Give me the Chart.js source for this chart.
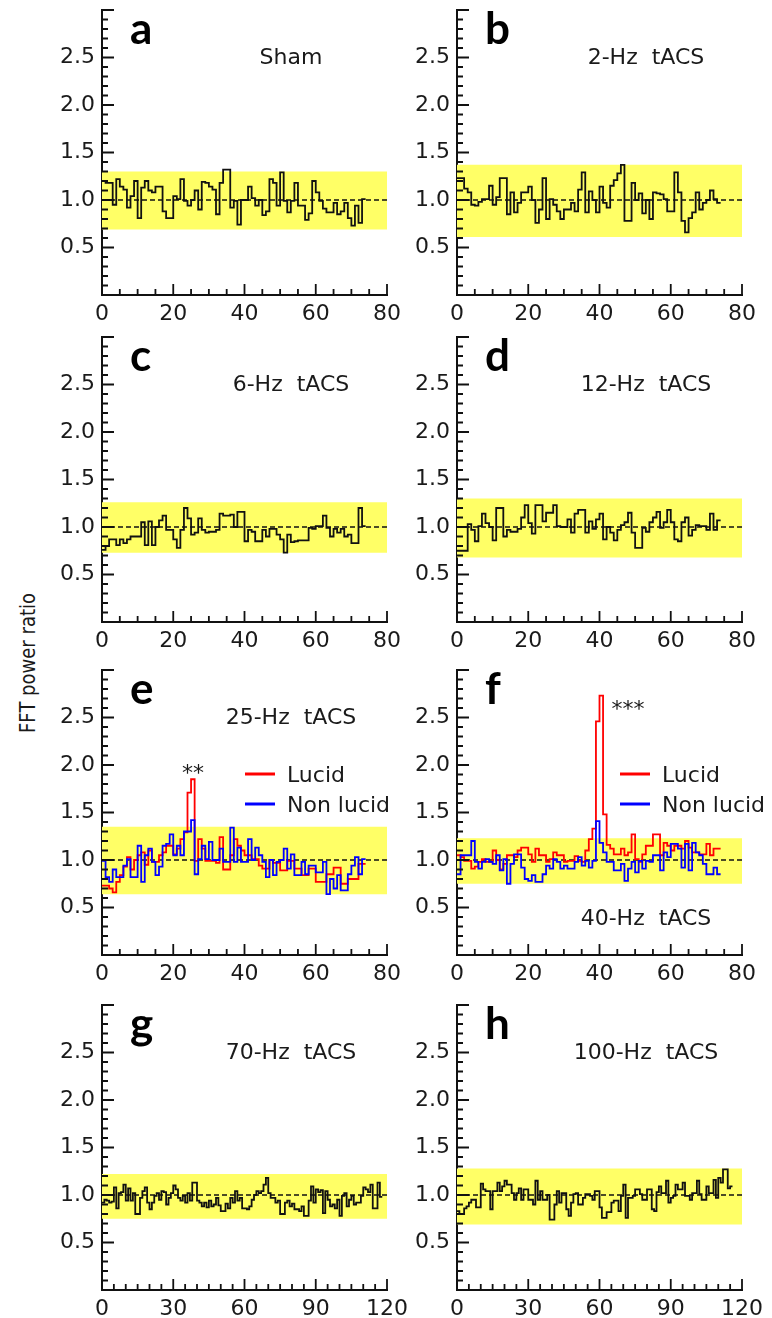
<!DOCTYPE html>
<html>
<head>
<meta charset="utf-8">
<script src="https://cdn.jsdelivr.net/npm/chart.js@4.4.0/dist/chart.umd.min.js"></script>
<style>
  body { margin: 0; background: #fff; width: 772px; height: 1318px; position: relative; overflow: hidden; }
  canvas { position: absolute; }
  #ytitle {
    position: absolute; left: -73px; top: 653px; width: 200px; height: 20px;
    line-height: 20px; text-align: center; font: 18px "DejaVu Sans"; color: #1a1a1a;
    transform: rotate(-90deg) scaleY(1.2);
  }
</style>
</head>
<body>
<div id="ytitle">FFT power ratio</div>
<script>
// FFT power ratio per 1-Hz bin, one array per stimulation condition
const sham = [1.20,1.18,1.18,0.95,1.22,1.14,1.11,0.92,1.04,1.20,
  0.81,1.13,1.20,1.10,1.08,1.14,1.14,0.88,0.81,0.81,
  1.04,1.01,1.22,0.99,0.94,1.00,1.10,0.90,1.19,1.18,
  1.14,1.11,0.85,1.18,1.32,1.32,0.92,0.99,0.74,1.00,
  1.00,1.14,1.02,0.94,1.00,0.84,0.88,1.22,1.18,0.94,
  1.29,0.99,0.87,0.99,1.18,0.94,0.94,0.79,0.86,1.20,
  1.08,0.99,0.91,0.87,0.87,0.97,0.85,0.88,0.97,0.81,
  0.73,0.94,0.76,1.01];
const tacs2 = [1.23,1.23,1.12,1.08,0.95,0.94,0.98,1.01,1.01,1.15,
  0.95,1.03,1.23,1.23,0.85,1.08,0.87,0.97,1.08,1.08,
  1.14,1.00,0.76,0.90,1.23,0.80,1.01,0.95,0.88,0.80,
  0.90,0.90,0.97,0.88,1.11,1.29,0.87,1.09,1.00,0.87,
  1.14,0.97,0.92,1.15,1.21,1.28,1.37,0.78,0.78,1.18,
  1.00,1.07,0.86,1.00,0.80,1.08,1.07,1.06,1.01,0.88,
  0.88,1.29,1.08,0.78,0.66,0.81,0.87,1.08,0.90,0.97,
  1.00,1.10,1.01,0.97];
const tacs6 = [0.76,0.80,0.87,0.87,0.81,0.87,0.83,0.87,0.90,0.90,
  0.90,1.05,0.81,1.06,0.81,1.00,1.07,1.12,0.97,0.97,
  0.87,0.78,0.97,1.20,1.09,0.92,0.94,1.09,0.97,0.94,
  0.95,0.95,0.97,1.14,1.12,1.12,1.13,1.00,1.16,1.16,
  0.85,0.97,0.95,0.85,0.85,0.97,0.90,0.98,0.98,0.92,
  0.87,0.73,0.92,0.84,0.85,0.86,0.86,0.86,0.99,0.98,
  1.01,1.01,1.12,0.99,0.90,0.98,0.94,0.98,0.90,0.92,
  0.83,0.83,1.20,1.01];
const tacs12 = [0.75,0.75,0.75,1.03,0.97,0.85,1.01,1.14,1.04,1.00,
  0.86,1.20,1.20,0.90,0.97,0.95,0.95,0.98,1.10,1.23,
  1.04,0.93,1.23,1.23,1.06,1.15,1.15,1.23,1.01,1.00,
  1.00,1.08,0.94,1.14,1.18,1.18,0.94,1.06,0.98,1.08,
  1.14,0.87,1.00,0.94,0.86,0.97,1.02,1.05,1.15,0.94,
  0.78,0.78,0.99,0.95,1.05,1.10,1.16,0.99,1.05,1.18,
  1.05,0.87,0.85,1.05,1.10,0.91,0.97,1.02,1.01,1.01,
  0.97,1.14,0.97,1.07];
const tacs25Lucid = [0.73,0.73,0.70,0.66,0.77,0.84,0.93,1.03,0.90,1.00,
  1.05,1.08,0.95,1.10,0.98,0.98,1.05,1.08,1.15,1.15,
  1.06,1.12,1.22,1.29,1.71,1.85,0.99,1.22,1.12,0.99,
  0.99,0.99,0.97,1.24,0.90,0.90,1.05,1.22,1.15,1.10,
  1.05,1.05,1.01,1.01,0.94,0.91,0.91,1.00,0.97,0.97,
  0.89,0.89,0.99,0.99,0.91,0.91,0.84,0.84,0.91,0.91,
  0.77,0.77,0.77,0.85,0.85,0.92,0.92,0.75,0.75,0.80,
  0.80,0.80,0.96,0.96];
const tacs25NonLucid = [0.99,0.82,0.77,0.90,0.82,0.82,0.94,1.01,0.82,0.82,
  1.15,0.77,1.05,1.12,0.98,0.84,0.93,1.15,1.17,1.27,
  1.05,1.15,1.05,1.30,1.30,1.42,0.85,1.01,1.15,1.01,
  1.19,1.00,1.00,1.12,0.98,0.98,1.34,0.98,1.13,0.98,
  0.98,1.22,1.00,1.13,1.05,0.98,0.82,1.00,0.84,0.98,
  1.00,1.12,0.91,1.06,0.84,0.84,0.98,0.85,0.94,0.94,
  0.87,0.87,0.98,0.64,0.80,0.70,0.84,0.68,0.68,0.85,
  0.94,1.03,0.85,1.01];
const tacs40Lucid = [1.05,1.03,0.99,0.99,0.91,0.93,0.98,1.01,0.98,0.98,
  1.10,1.00,0.90,0.96,1.05,1.05,1.03,1.10,1.13,1.13,
  1.06,0.98,1.12,1.05,1.05,0.98,1.01,1.08,1.05,1.05,
  0.98,0.99,0.99,1.04,0.99,0.98,1.10,1.22,1.33,2.46,
  2.73,1.48,1.16,1.12,1.06,1.06,1.12,1.05,1.08,1.27,
  1.01,0.98,1.06,1.15,1.15,1.27,1.27,1.05,1.18,1.15,
  1.10,1.15,1.15,1.12,1.20,1.13,1.08,1.08,1.06,1.06,
  1.17,1.05,1.12,1.12];
const tacs40NonLucid = [0.85,1.05,1.05,1.05,1.20,0.98,0.91,0.98,1.01,0.98,
  0.96,1.05,0.89,1.01,0.75,0.96,1.06,1.06,0.92,0.80,
  0.78,0.84,0.77,0.77,0.85,0.94,0.91,1.01,0.98,0.91,
  0.94,0.91,0.91,0.98,1.03,0.94,0.99,0.92,0.99,1.41,
  1.18,1.08,0.98,0.98,0.89,0.89,0.96,0.78,0.91,0.98,
  0.87,0.99,0.91,0.99,0.98,1.05,1.05,0.89,1.08,1.03,
  1.17,1.17,1.12,0.92,1.17,0.89,1.18,1.08,1.05,0.96,
  0.85,0.85,0.92,0.85];
const tacs70 = [0.92,0.95,0.94,0.92,0.93,1.08,0.86,1.02,1.03,1.11,
  0.94,1.07,0.94,1.02,0.80,0.80,0.97,1.04,1.08,0.92,
  0.85,0.92,0.99,1.02,0.95,1.04,1.03,0.90,0.97,1.02,
  1.10,1.06,0.97,0.94,0.99,0.92,1.02,0.94,1.13,1.13,
  0.94,0.92,0.88,0.92,0.87,0.94,0.88,0.90,0.97,0.89,
  0.83,0.83,0.91,0.86,0.97,0.92,1.04,0.94,0.97,0.86,
  0.86,0.85,0.88,0.95,1.00,1.04,1.02,1.04,1.11,1.18,
  1.02,0.97,0.97,0.92,0.94,0.80,0.80,0.92,0.94,0.88,
  0.91,0.85,0.85,0.83,0.88,0.78,0.78,0.94,1.09,0.92,
  1.06,1.03,1.05,0.81,1.04,0.95,0.88,0.90,0.86,0.95,
  0.78,0.99,1.02,0.88,0.95,0.99,0.90,0.92,0.92,0.99,
  1.08,1.06,1.03,1.11,0.86,0.86,1.13,0.98];
const tacs100 = [0.83,0.80,0.80,0.86,0.88,0.92,0.95,0.95,0.87,0.87,
  1.12,1.06,1.04,1.04,0.85,1.04,1.04,1.13,1.04,1.09,
  1.15,1.11,1.11,1.02,0.95,1.02,1.07,0.95,1.06,1.06,
  0.95,0.95,0.90,1.15,0.95,1.04,0.95,0.95,1.00,0.74,
  0.74,0.90,1.04,0.92,1.02,1.02,0.85,0.78,0.92,1.01,
  1.02,0.90,0.90,0.97,1.01,1.01,0.99,0.95,1.04,1.04,
  0.87,0.76,0.76,0.82,0.82,0.92,0.94,0.94,0.83,0.99,
  1.11,0.76,0.97,0.97,0.99,1.06,1.06,1.01,0.95,0.95,
  1.06,1.06,0.85,0.83,1.03,1.09,1.02,1.02,1.15,0.92,
  0.97,0.99,1.11,1.06,1.06,1.13,0.99,0.99,0.95,1.02,
  1.02,1.15,1.01,0.95,0.95,1.09,1.02,1.02,1.16,0.97,
  1.18,1.13,1.27,1.27,1.07,1.09];

// shaded confidence band per panel (a..h)
const bandLow  = [0.69, 0.61, 0.73, 0.68, 0.64, 0.75, 0.75, 0.69];
const bandHigh = [1.30, 1.37, 1.26, 1.30, 1.35, 1.23, 1.22, 1.28];

const panelLetters = ['a', 'b', 'c', 'd', 'e', 'f', 'g', 'h'];
const panelTitles = ['Sham', '2-Hz  tACS', '6-Hz  tACS', '12-Hz  tACS',
  '25-Hz  tACS', '40-Hz  tACS', '70-Hz  tACS', '100-Hz  tACS'];
const xTicks80 = [0, 20, 40, 60, 80];
const xTicks120 = [0, 30, 60, 90, 120];
const yTicks = [0.5, 1.0, 1.5, 2.0, 2.5];

const RED = '#ff0000', BLUE = '#0000ff', INK = '#111';

const panels = [
  { series: [[sham, INK]], xTicks: xTicks80 },
  { series: [[tacs2, INK]], xTicks: xTicks80 },
  { series: [[tacs6, INK]], xTicks: xTicks80 },
  { series: [[tacs12, INK]], xTicks: xTicks80 },
  { series: [[tacs25Lucid, RED], [tacs25NonLucid, BLUE]], xTicks: xTicks80,
    legendX: 143, stars: { text: '**', dx: 91, dy: 97 } },
  { series: [[tacs40Lucid, RED], [tacs40NonLucid, BLUE]], xTicks: xTicks80,
    legendX: 163, titleDy: 255, stars: { text: '***', dx: 171, dy: 33 } },
  { series: [[tacs70, INK]], xTicks: xTicks120 },
  { series: [[tacs100, INK]], xTicks: xTicks120 },
];

// page layout
const colX = [102, 457];
const rowTop = [10, 337, 670, 1005];
const PLOT_W = 285, PLOT_H = 285;
const LEFT = 100, TOP = 12, RIGHT = 30, BOTTOM = 40;

// histogram outline: bin i covers [i, i+1]
function steps(vals) {
  const pts = vals.map((v, i) => ({ x: i, y: v }));
  pts.push({ x: vals.length, y: vals[vals.length - 1] });
  return pts;
}

const panelDecor = {
  id: 'panelDecor',
  afterDraw(chart, args, o) {
    const { ctx, chartArea: { left, top, bottom } } = chart;
    const sx = chart.scales.x, sy = chart.scales.y;
    ctx.save();

    // inward tick marks, long at labelled values
    ctx.strokeStyle = INK;
    ctx.lineWidth = 1.8;
    ctx.beginPath();
    for (let i = 1; i <= 30; i++) {
      const y = sy.getPixelForValue(i / 10);
      ctx.moveTo(left, y);
      ctx.lineTo(left + (i % 5 === 0 ? 12 : 6), y);
    }
    const major = o.xTicks[1] - o.xTicks[0];
    const xMax = o.xTicks[o.xTicks.length - 1];
    for (let v = 5; v <= xMax; v += 5) {
      const x = sx.getPixelForValue(v);
      ctx.moveTo(x, bottom);
      ctx.lineTo(x, bottom - (v % major === 0 ? 11 : 6));
    }
    ctx.stroke();

    // panel letter and condition label
    ctx.fillStyle = '#000';
    ctx.textAlign = 'left';
    ctx.textBaseline = 'alphabetic';
    ctx.font = 'bold 44px Lato';
    ctx.fillText(o.letter, left + 28, top + 34);
    ctx.fillStyle = '#1a1a1a';
    ctx.font = '22px "DejaVu Sans"';
    ctx.textAlign = 'center';
    ctx.fillText(o.title, left + 189, top + (o.titleDy || 54));

    if (o.stars) {
      ctx.fillText(o.stars.text, left + o.stars.dx, top + o.stars.dy + 13);
    }

    if (o.legendX) {
      const names = ['Lucid', 'Non lucid'];
      const cols = [RED, BLUE];
      ctx.textAlign = 'left';
      names.forEach((n, i) => {
        const base = top + 112 + i * 30;
        ctx.strokeStyle = cols[i];
        ctx.lineWidth = 3;
        ctx.beginPath();
        ctx.moveTo(left + o.legendX, base - 8);
        ctx.lineTo(left + o.legendX + 30, base - 8);
        ctx.stroke();
        ctx.fillStyle = '#1a1a1a';
        ctx.fillText(n, left + o.legendX + 42, base);
      });
    }
    ctx.restore();
  }
};

panels.forEach((p, idx) => {
  const canvas = document.createElement('canvas');
  const w = LEFT + PLOT_W + RIGHT, h = TOP + PLOT_H + BOTTOM;
  canvas.width = w; canvas.height = h;
  canvas.style.width = w + 'px'; canvas.style.height = h + 'px';
  canvas.style.left = (colX[idx % 2] - LEFT) + 'px';
  canvas.style.top = (rowTop[Math.floor(idx / 2)] - TOP) + 'px';
  document.body.appendChild(canvas);

  const xMax = p.xTicks[p.xTicks.length - 1];
  const flat = v => [{ x: 0, y: v }, { x: xMax, y: v }];
  const datasets = [
    { data: flat(bandLow[idx]), borderWidth: 0, pointRadius: 0, fill: false, order: 10 },
    { data: flat(bandHigh[idx]), borderWidth: 0, pointRadius: 0, fill: '-1',
      backgroundColor: '#ffff66', order: 9 },
    { data: flat(1), borderColor: '#111', borderWidth: 1.3, borderDash: [5, 3],
      pointRadius: 0, fill: false, order: 5 },
  ];
  p.series.forEach(([vals, color], k) => {
    datasets.push({
      data: steps(vals), borderColor: color, borderWidth: 1.8, stepped: 'before',
      pointRadius: 0, fill: false, order: 2 - k
    });
  });

  new Chart(canvas, {
    type: 'line',
    data: { datasets },
    options: {
      responsive: false,
      animation: false,
      devicePixelRatio: 1,
      layout: { padding: { left: 0, top: TOP, right: RIGHT, bottom: 0 } },
      plugins: {
        legend: { display: false },
        tooltip: { enabled: false },
        panelDecor: {
          letter: panelLetters[idx], title: panelTitles[idx], xTicks: p.xTicks,
          titleDy: p.titleDy, legendX: p.legendX, stars: p.stars
        }
      },
      scales: {
        x: {
          type: 'linear', min: 0, max: xMax,
          grid: { display: false, drawTicks: false },
          border: { display: true, color: INK, width: 2 },
          afterBuildTicks: s => { s.ticks = p.xTicks.map(v => ({ value: v })); },
          ticks: { font: { family: 'DejaVu Sans', size: 22 }, color: '#1a1a1a',
                   padding: 6, maxRotation: 0, autoSkip: false },
          afterFit: s => { s.height = BOTTOM; s.paddingLeft = 0; s.paddingRight = 0; }
        },
        y: {
          min: 0, max: 3,
          grid: { display: false, drawTicks: false },
          border: { display: true, color: INK, width: 2 },
          afterBuildTicks: s => { s.ticks = yTicks.map(v => ({ value: v })); },
          ticks: { font: { family: 'DejaVu Sans', size: 22 }, color: '#1a1a1a',
                   padding: 7, callback: v => v.toFixed(1) },
          afterFit: s => { s.width = LEFT; s.paddingTop = 0; s.paddingBottom = 0; }
        }
      }
    },
    plugins: [panelDecor]
  });
});
</script>
</body>
</html>
